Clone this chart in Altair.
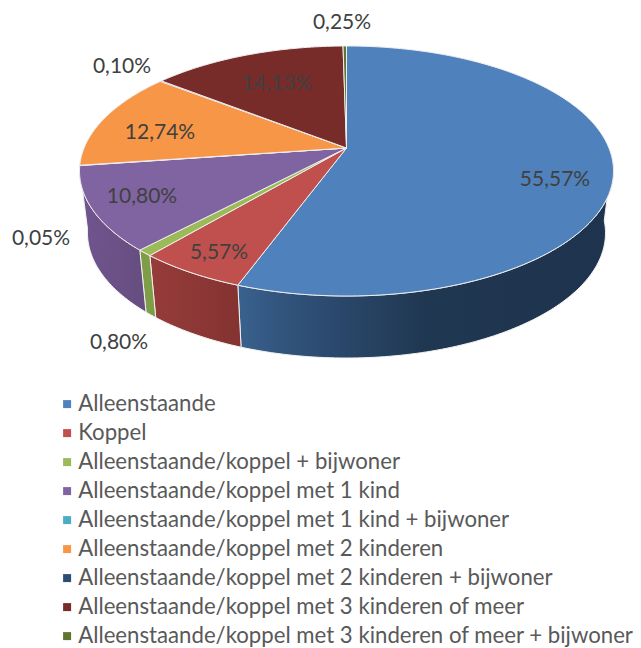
import math
import altair as alt
import pandas as pd

names = ["Alleenstaande", "Koppel", "Alleenstaande/koppel + bijwoner",
         "Alleenstaande/koppel met 1 kind", "Alleenstaande/koppel met 1 kind + bijwoner",
         "Alleenstaande/koppel met 2 kinderen", "Alleenstaande/koppel met 2 kinderen + bijwoner",
         "Alleenstaande/koppel met 3 kinderen of meer",
         "Alleenstaande/koppel met 3 kinderen of meer + bijwoner"]
values = [55.57, 5.57, 0.80, 10.80, 0.05, 12.74, 0.10, 14.13, 0.25]
labels = ["55,57%", "5,57%", "0,80%", "10,80%", "0,05%", "12,74%", "0,10%", "14,13%", "0,25%"]
colors = ["#4f81bd", "#c0504d", "#9bbb59", "#8064a2", "#4bacc6", "#f79646", "#2c4d75", "#772c2a", "#5f7530"]
wall_stops = [
    [("#3a618e", 0), ("#2f5078", 0.16), ("#203751", 0.5), ("#1e334e", 1)],
    [("#963c3a", 0), ("#833331", 1)],
    [("#7f9c47", 0), ("#7f9c47", 1)],
    [("#70558f", 0), ("#664d7f", 1)],
    [("#3a8da3", 0), ("#3a8da3", 1)],
    [("#c57a38", 0), ("#c57a38", 1)],
    [("#23405f", 0), ("#23405f", 1)],
    [("#5f2322", 0), ("#5f2322", 1)],
    [("#4c5e26", 0), ("#4c5e26", 1)],
]
label_x = [555, 219, 119, 142, 41, 160, 122, 277, 342]
label_y = [179, 252, 342, 196, 238, 132, 66, 83, 22]

CX, CY, A, B = 346.5, 171.0, 267.0, 125.0
BCY, BA, BB = 233.0, 259.0, 125.0
S = 0.184
total = sum(values)


def project(theta):
    t = math.radians(theta)
    u, v = math.sin(t), math.cos(t)
    d = 1 + S * v
    return u * math.sqrt(1 - S * S) / d, (v + S) / d


def top(theta):
    u, v = project(theta)
    return CX + A * u, CY - B * v


def bottom(theta):
    u, v = project(theta)
    return CX + BA * u, BCY - BB * v


def steps(a, b):
    n = max(1, int(abs(b - a)))
    return [a + (b - a) * k / n for k in range(n + 1)]


def table(points):
    return pd.DataFrame({"px": [p[0] for p in points], "py": [p[1] for p in points],
                         "i": range(len(points))})


x_enc = alt.X("px:Q", axis=None, scale=alt.Scale(domain=[8, 633], nice=False, zero=False))
y_enc = alt.Y("py:Q", axis=None, scale=alt.Scale(domain=[648, 8], nice=False, zero=False))

walls, faces = [], []
cum = 0.0
spans = []
for v in values:
    spans.append((cum / total * 360, (cum + v) / total * 360))
    cum += v

for (a, b), c, stops in zip(spans, colors, wall_stops):
    lo, hi = max(a, 95), min(b, 261)
    if hi > lo:
        rim = [top(t) for t in steps(lo, hi)]
        low = [bottom(t) for t in steps(hi, lo)]
        pts = rim + low + rim[:1]
        walls.append(alt.Chart(table(pts)).mark_line(
            fill=alt.Gradient(gradient="linear", x1=0, x2=1, y1=0, y2=0,
                              stops=[alt.GradientStop(color=s[0], offset=s[1]) for s in stops]),
            stroke="#f2f2f2", strokeWidth=1, clip=False).encode(x=x_enc, y=y_enc, order="i:Q"))
    apex = (CX, CY - B * S)
    pts = [apex] + [top(t) for t in steps(a, b)] + [apex]
    faces.append(alt.Chart(table(pts)).mark_line(
        fill=c, stroke="#eeeeee", strokeWidth=1).encode(x=x_enc, y=y_enc, order="i:Q"))

legend_df = pd.DataFrame({"name": names, "px": [CX] * len(names), "py": [CY - B * S] * len(names)})
legend_layer = alt.Chart(legend_df).mark_square(size=4, opacity=1).encode(
    x=x_enc, y=y_enc,
    fill=alt.Fill("name:N", scale=alt.Scale(domain=names, range=colors), legend=alt.Legend(
        title=None, orient="none", legendX=48, legendY=385, symbolType="square", symbolSize=64,
        symbolStrokeWidth=0, symbolOpacity=1, labelFont="Lato", labelFontSize=22.2, labelColor="#595959",
        labelLimit=620, rowPadding=6.0, symbolOffset=0, labelOffset=0, columns=1, padding=0)))

text_df = pd.DataFrame({"px": label_x, "py": label_y, "label": labels})
text_layer = alt.Chart(text_df).mark_text(
    font="Lato", fontSize=21, color="#404040", align="center", baseline="middle", dy=1
).encode(x=x_enc, y=y_enc, text="label:N")

chart = alt.layer(legend_layer, *walls, *faces, text_layer).properties(
    width=625, height=640, padding=0, autosize=alt.AutoSizeParams(type="none"), background="white"
).configure_view(stroke=None)

chart.save("out.html", embed_options={"renderer": "svg", "actions": False})
